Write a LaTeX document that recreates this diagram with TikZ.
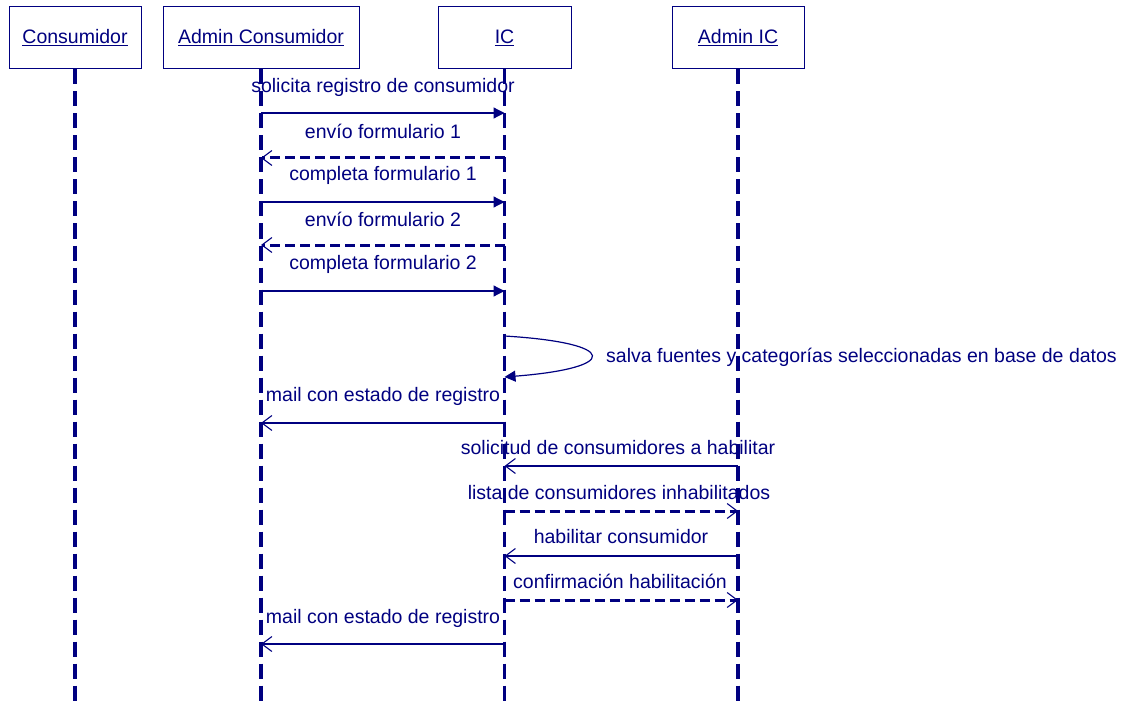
\documentclass[tikz,border=0pt]{standalone}
\usepackage{fontspec}
\setmainfont{Liberation Sans}
\usetikzlibrary{arrows.meta}
\definecolor{umlnavy}{HTML}{000080}
\begin{document}
\begin{tikzpicture}[x=1pt,y=-1pt,
  every node/.style={font=\fontsize{19.5}{22}\selectfont, text=umlnavy, inner sep=0pt},
  head/.style={draw=umlnavy, line width=1pt, minimum height=62pt, fill=white},
  lifeline/.style={draw=umlnavy, line width=3.2pt, dash pattern=on 15pt off 7pt},
  call/.style={draw=umlnavy, line width=1.2pt, -{Triangle[length=11pt,width=11pt]}},
  async/.style={draw=umlnavy, line width=1.2pt, -{Straight Barb[length=10pt,width=15pt,line width=1.1pt]}},
  reply/.style={draw=umlnavy, line width=3pt, dash pattern=on 10pt off 5pt, -{Straight Barb[length=10pt,width=15pt,line width=1.1pt]}},
  msg/.style={anchor=center}]
\useasboundingbox (0,0) rectangle (1123,703);

% object heads
\node[head, minimum width=132pt] (cons) at (75,38) {\underline{Consumidor}};
\node[head, minimum width=196pt] (acons) at (261,38) {\underline{Admin Consumidor}};
\node[head, minimum width=133pt] (ic) at (504.5,38) {\underline{IC}};
\node[head, minimum width=132pt] (aic) at (738,38) {\underline{Admin IC}};

% lifelines
\coordinate (consE) at (cons.south |- 0,703);
\coordinate (aconsE) at (acons.south |- 0,703);
\coordinate (icE) at (ic.south |- 0,703);
\coordinate (aicE) at (aic.south |- 0,703);
\draw[lifeline] (cons.south) -- (consE);
\draw[lifeline] (acons.south) -- (aconsE);
\draw[lifeline] (ic.south) -- (icE);
\draw[lifeline] (aic.south) -- (aicE);

% registration requests between Admin Consumidor and IC
\node[msg] (l1) at (383,87) {solicita registro de consumidor};
\draw[call] (acons.south |- 0,113) -- (ic.south |- 0,113);
\node[msg] (l2) at (383,131) {envío formulario 1};
\draw[reply] (ic.south |- 0,158) -- (acons.south |- 0,158);
\node[msg] (l3) at (383,175) {completa formulario 1};
\draw[call] (acons.south |- 0,202) -- (ic.south |- 0,202);
\node[msg] (l4) at (383,219) {envío formulario 2};
\draw[reply] (ic.south |- 0,245) -- (acons.south |- 0,245);
\node[msg] (l5) at (383,264) {completa formulario 2};
\draw[call] (acons.south |- 0,291) -- (ic.south |- 0,291);

% self call on IC
\draw[call] (ic.south |- 0,336) .. controls (620,343) and (620,368) .. (ic.south |- 0,377);
\node[anchor=west] (l6) at (606,357) {salva fuentes y categorías seleccionadas en base de datos};

\node[msg] (l7) at (383,396) {mail con estado de registro};
\draw[async] (ic.south |- 0,423) -- (acons.south |- 0,423);

% enabling consumers between IC and Admin IC
\node[msg] (l8) at (618,448) {solicitud de consumidores a habilitar};
\draw[async] (aic.south |- 0,466) -- (ic.south |- 0,466);
\node[msg] (l9) at (619,493) {lista de consumidores inhabilitados};
\draw[reply] (ic.south |- 0,511) -- (aic.south |- 0,511);
\node[msg] (l10) at (621,537) {habilitar consumidor};
\draw[async] (aic.south |- 0,556) -- (ic.south |- 0,556);
\node[msg] (l11) at (620,581) {confirmación habilitación};
\draw[reply] (ic.south |- 0,600) -- (aic.south |- 0,600);

\node[msg] (l12) at (383,618) {mail con estado de registro};
\draw[async] (ic.south |- 0,644) -- (acons.south |- 0,644);
\end{tikzpicture}
\end{document}
